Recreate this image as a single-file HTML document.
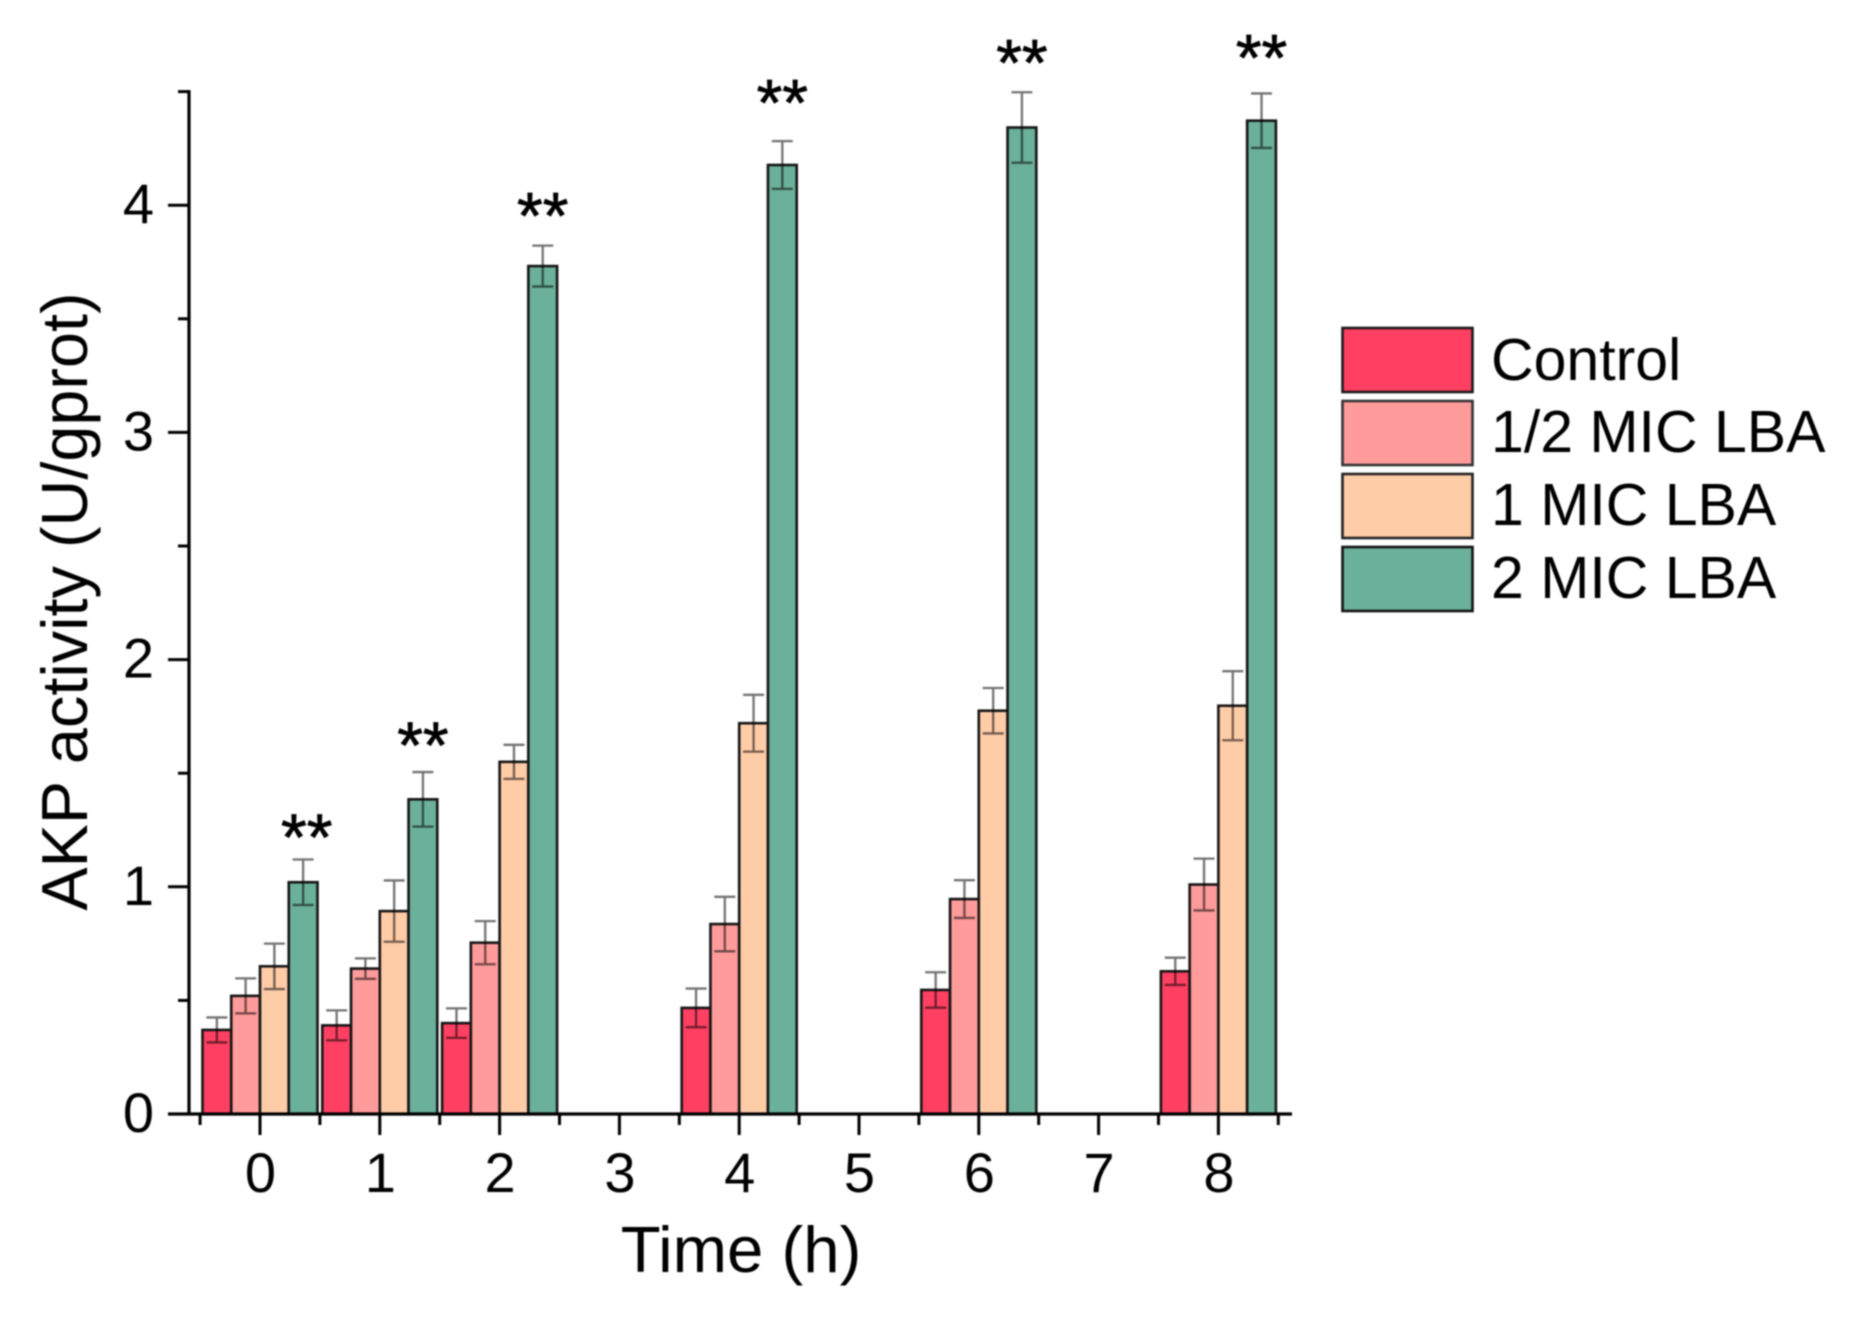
<!DOCTYPE html>
<html lang="en">
<head>
<meta charset="utf-8">
<title>AKP activity over time</title>
<style>
  html, body { margin: 0; padding: 0; background: #ffffff; }
  body { width: 1865px; height: 1325px; overflow: hidden; }
  svg { display: block; filter: blur(0.7px); }
  text { font-family: "Liberation Sans", sans-serif; fill: #000000; }
</style>
</head>
<body>
<svg id="chart" xmlns="http://www.w3.org/2000/svg" width="1865" height="1325" viewBox="0 0 1865 1325">
  <rect x="0" y="0" width="1865" height="1325" fill="#ffffff"/>
  <g id="bars"></g>
  <g id="errors"></g>
  <g id="axes"></g>
  <g id="stars"></g>

  <text x="741" y="1272" font-size="65.3" text-anchor="middle">Time (h)</text>
  <text transform="translate(87,601.5) rotate(-90)" font-size="64.8" text-anchor="middle">AKP activity (U/gprot)</text>

  <g>
    <g>
      <rect x="1342.5" y="328" width="130" height="64" fill="#FF4063" stroke="#1a1a1a" stroke-width="2.6"/>
      <text x="1491" y="380" font-size="59">Control</text>
    </g>
    <g>
      <rect x="1342.5" y="401" width="130" height="64" fill="#FF9B9B" stroke="#333333" stroke-width="2.6"/>
      <text x="1491" y="452" font-size="59">1/2 MIC LBA</text>
    </g>
    <g>
      <rect x="1342.5" y="474" width="130" height="64" fill="#FFCCA8" stroke="#222222" stroke-width="2.6"/>
      <text x="1491" y="525" font-size="59">1 MIC LBA</text>
    </g>
    <g>
      <rect x="1342.5" y="547" width="130" height="64" fill="#6BB09A" stroke="#111111" stroke-width="2.6"/>
      <text x="1491" y="598" font-size="59">2 MIC LBA</text>
    </g>
  </g>
</svg>

<script>
const categories = [0, 1, 2, 3, 4, 5, 6, 7, 8];
const controlValues = [0.37, 0.39, 0.40, null, 0.467, null, 0.546, null, 0.628];
const halfMicValues = [0.52, 0.64, 0.754, null, 0.836, null, 0.946, null, 1.01];
const oneMicValues = [0.65, 0.893, 1.55, null, 1.72, null, 1.775, null, 1.797];
const twoMicValues = [1.02, 1.385, 3.732, null, 4.177, null, 4.342, null, 4.372];
const controlErrors = [0.055, 0.066, 0.065, null, 0.085, null, 0.078, null, 0.06];
const halfMicErrors = [0.077, 0.045, 0.095, null, 0.12, null, 0.083, null, 0.114];
const oneMicErrors = [0.1, 0.135, 0.075, null, 0.125, null, 0.1, null, 0.152];
const twoMicErrors = [0.1, 0.12, 0.09, null, 0.105, null, 0.155, null, 0.12];
const starLevels = [1.277, 1.682, 4.012, null, 4.51, null, 4.685, null, 4.707];
const starTimes = [0.39, 1.36, 2.36, null, 4.36, null, 6.36, null, 8.36];
const yTickLabels = [0, 1, 2, 3, 4];
const yMinorTicks = [0.5, 1.5, 2.5, 3.5, 4.5];
const xMinorTicks = [-0.5, 0.5, 1.5, 2.5, 3.5, 4.5, 5.5, 6.5, 7.5, 8.5];
const seriesNames = ['control', 'half-mic', 'one-mic', 'two-mic'];
const seriesValues = [controlValues, halfMicValues, oneMicValues, twoMicValues];
const seriesErrors = [controlErrors, halfMicErrors, oneMicErrors, twoMicErrors];
const seriesColors = ['#FF4063', '#FF9B9B', '#FFCCA8', '#6BB09A'];

const NS = 'http://www.w3.org/2000/svg';
const xOrigin = 260, xUnit = 119.8, yOrigin = 1114, yUnit = 227.2;
const barWidth = xUnit * 0.24;
const capHalf = 10.5;
const xPos = function (v) { return xOrigin + xUnit * v; };
const yPos = function (v) { return yOrigin - yUnit * v; };

function make(tag, attrs, parent) {
  const el = document.createElementNS(NS, tag);
  Object.keys(attrs).forEach(function (k) { el.setAttribute(k, attrs[k]); });
  parent.appendChild(el);
  return el;
}

const barsLayer = document.getElementById('bars');
const errorsLayer = document.getElementById('errors');
const axesLayer = document.getElementById('axes');
const starsLayer = document.getElementById('stars');

categories.forEach(function (cat, c) {
  seriesValues.forEach(function (values, s) {
    const val = values[c];
    if (val === null) return;
    const left = xPos(cat) + (s - 2) * barWidth;
    const bar = make('rect', {
      x: left, y: yPos(val), width: barWidth, height: yPos(0) - yPos(val),
      fill: seriesColors[s], stroke: '#151515', 'stroke-width': 2.6
    }, barsLayer);
    
    

    const err = seriesErrors[s][c];
    const mid = left + barWidth / 2;
    const hi = yPos(val + err);
    const lo = yPos(val - err);
    const errorBar = make('path', {
      d: 'M' + (mid - capHalf) + ' ' + hi + 'H' + (mid + capHalf) +
         'M' + mid + ' ' + hi + 'V' + lo +
         'M' + (mid - capHalf) + ' ' + lo + 'H' + (mid + capHalf),
      fill: 'none', stroke: '#000000', 'stroke-opacity': 0.55, 'stroke-width': 2.3
    }, errorsLayer);
    
    
  });

  if (starLevels[c] !== null) {
    const star = make('text', {
      x: xPos(starTimes[c]), y: yPos(starLevels[c]) + 36,
      'font-size': 66, 'text-anchor': 'middle', stroke: '#000000', 'stroke-width': 0.8
    }, starsLayer);
    star.textContent = '**';
    
    
  }

  const tick = make('line', {
    x1: xPos(cat), x2: xPos(cat), y1: yOrigin, y2: yOrigin + 21,
    stroke: '#000000', 'stroke-width': 3
  }, axesLayer);
  
  

  const label = make('text', {
    x: xPos(cat) + 0.5, y: 1192, 'font-size': 56, 'text-anchor': 'middle'
  }, axesLayer);
  label.textContent = String(cat);
  
  
});

xMinorTicks.forEach(function (v) {
  const tick = make('line', {
    x1: xPos(v), x2: xPos(v), y1: yOrigin, y2: yOrigin + 11,
    stroke: '#000000', 'stroke-width': 3
  }, axesLayer);
  
  
});

yTickLabels.forEach(function (v) {
  const tick = make('line', {
    x1: 168, x2: 189, y1: yPos(v), y2: yPos(v),
    stroke: '#000000', 'stroke-width': 3
  }, axesLayer);
  
  

  const label = make('text', {
    x: 154, y: yPos(v) + 18, 'font-size': 56, 'text-anchor': 'end'
  }, axesLayer);
  label.textContent = String(v);
  
  
});

yMinorTicks.forEach(function (v) {
  const tick = make('line', {
    x1: 178, x2: 189, y1: yPos(v), y2: yPos(v),
    stroke: '#000000', 'stroke-width': 3
  }, axesLayer);
  
  
});

const yAxis = make('line', {
  x1: 189, x2: 189, y1: yPos(4.5) - 1.5, y2: yPos(0),
  stroke: '#000000', 'stroke-width': 3.2
}, axesLayer);



const xAxis = make('line', {
  x1: 168, x2: 1292, y1: yPos(0), y2: yPos(0),
  stroke: '#000000', 'stroke-width': 3.2
}, axesLayer);


</script>
</body>
</html>
